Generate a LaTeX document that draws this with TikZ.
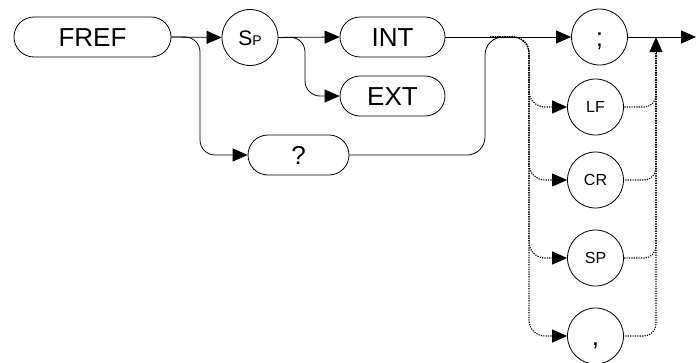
\documentclass[tikz,border=0pt]{standalone}
\usepackage{fontspec}
\setmainfont{Liberation Sans}
\usetikzlibrary{arrows.meta}
\begin{document}
\begin{tikzpicture}[x=1pt,y=-1pt,
  big/.style={font=\fontsize{26}{28}\selectfont, text height=18.6pt, text depth=0pt, inner sep=0pt},
  small/.style={font=\fontsize{16}{18}\selectfont, text height=11.5pt, text depth=0pt, inner sep=0pt},
  pill/.style={draw, rectangle, rounded corners=20pt, minimum height=40pt, line width=0.8pt},
  ring/.style={draw, circle, minimum size=56pt, line width=0.8pt},
  conn/.style={line width=0.8pt},
  arr/.style={conn, -{Triangle[length=15pt,width=13pt]}},
  dotline/.style={line width=1.1pt, dash pattern=on 1.2pt off 1.2pt},
  dotarr/.style={dotline, -{Triangle[length=15pt,width=13pt]}}
]
\useasboundingbox (0,0) rectangle (696,362);

% nodes
\node[pill, big, minimum width=157pt] (fref) at (92.5,37) {FREF};
\node[ring, font=\fontsize{21}{22}\selectfont, text height=15pt, text depth=0pt, inner sep=0pt] (sp) at (250,37.5) {S\fontsize{14}{14}\selectfont P};
\node[pill, big, minimum width=105pt] (int) at (392.5,37) {INT};
\node[pill, big, minimum width=105pt] (ext) at (392.5,96) {EXT};
\node[pill, big, minimum width=101pt] (q) at (298.5,155) {?};
\node[ring, big] (semi) at (599.5,37) {;};
\node[ring, small] (lf) at (595.5,107) {LF};
\node[ring, small] (cr) at (595.5,180) {CR};
\node[ring, small] (spc) at (595.5,258) {SP};
\node[ring, big] (comma) at (595.5,336) {,};

% junction coordinates
\coordinate (j1) at (200,37);
\coordinate (j2) at (305,37);
\coordinate (j3) at (485,37);
\coordinate (j4) at (515,37);
\coordinate (d0) at (490,37);
\coordinate (dv) at (529,37);
\coordinate (rv) at (656,53);
\coordinate (ra) at (656,37);
\coordinate (endc) at (696,37);

% solid connectors
\draw[arr] (fref.east) -- (sp.west);
\draw[arr, rounded corners=15pt] (fref.east) -- (j1) |- (q.west);
\draw[arr] (sp.east) -- (int.west);
\draw[arr, rounded corners=15pt] (sp.east) -- (j2) |- (ext.west);
\draw[arr] (int.east) -- (semi.west);
\draw[conn, rounded corners=18pt] (q.east) -| (j3) -- (j4);
\draw[arr] (semi.east) -- (endc);
\draw[arr] (rv) -- (ra);

% dotted alternatives
\foreach \n in {lf,cr,spc,comma}{
  \draw[dotarr, rounded corners=16pt] (d0) -- (dv) |- (\n.west);
  \draw[dotline, rounded corners=12pt] (rv) |- (\n.east);
}
\end{tikzpicture}
\end{document}
